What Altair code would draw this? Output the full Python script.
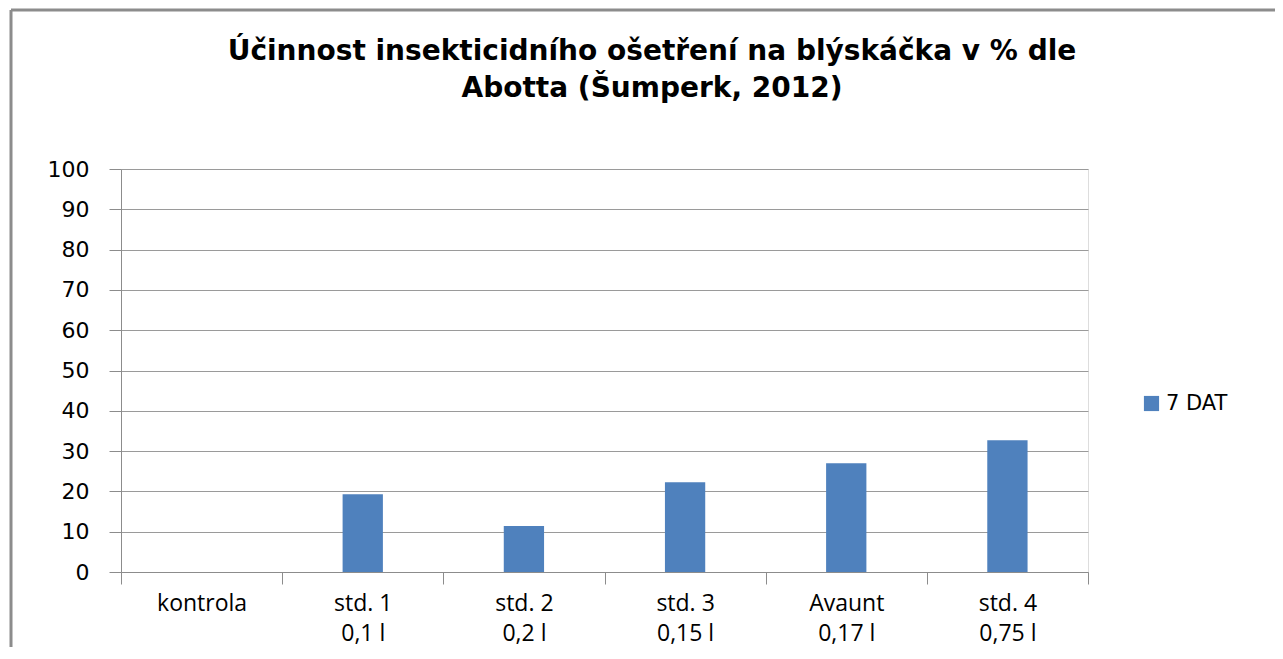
import altair as alt
import pandas as pd

categories = ["kontrola", "std. 1\n0,1 l", "std. 2\n0,2 l", "std. 3\n0,15 l", "Avaunt\n0,17 l", "std. 4\n0,75 l"]
values = [0, 19.3, 11.4, 22.3, 27.0, 32.7]
series_name = "7 DAT"
title_lines = ["Účinnost insekticidního ošetření na blýskáčka v % dle", "Abotta (Šumperk, 2012)"]
y_ticks = [0, 10, 20, 30, 40, 50, 60, 70, 80, 90, 100]

df = pd.DataFrame({"cat": categories, "val": values, "series": [series_name] * len(categories)})

W, H = 967, 403

bars = alt.Chart(df).mark_bar(width=alt.RelativeBandSize(0.25), color="#4F81BD").encode(
    x=alt.X("cat:N", sort=categories, title=None,
            scale=alt.Scale(paddingInner=0, paddingOuter=0),
            axis=alt.Axis(labelExpr="split(datum.label, '\\n')", labelAngle=0,
                          tickBand="extent", tickSize=12, tickColor="#8c8c8c",
                          domainColor="#8c8c8c", labelFont="Open Sans", labelFontSize=23,
                          labelColor="#000000", labelLineHeight=30, labelPadding=8,
                          labelBaseline="top", labelAlign="center")),
    y=alt.Y("val:Q", title=None,
            scale=alt.Scale(domain=[0, 100], nice=False),
            axis=alt.Axis(values=y_ticks, tickSize=12, tickColor="#8c8c8c",
                          domainColor="#8c8c8c", gridColor="#9a9a9a", gridWidth=1,
                          labelFont="DejaVu Sans", labelFontSize=22, labelColor="#000000",
                          labelPadding=20)),
    fill=alt.Fill("series:N", scale=alt.Scale(range=["#4F81BD"]),
                  legend=alt.Legend(title=None, orient="none", legendX=1020, legendY=224,
                                    symbolType="square", symbolSize=230,
                                    labelFont="DejaVu Sans", labelFontSize=21,
                                    labelColor="#000000", symbolStrokeWidth=0)),
)

one_row = alt.Data(values=[{}])
left_border = alt.Chart(one_row).mark_rule(color="#8c8c8c", strokeWidth=3).encode(
    x=alt.value(-110), y=alt.value(-159), y2=alt.value(600))
top_border = alt.Chart(one_row).mark_rule(color="#8c8c8c", strokeWidth=3).encode(
    x=alt.value(-110), x2=alt.value(1300), y=alt.value(-159))
title = alt.Chart(one_row).mark_text(
    font="DejaVu Sans", fontSize=28, fontWeight="bold", color="#000000",
    align="center", baseline="alphabetic", lineHeight=37).encode(
    x=alt.value(531), y=alt.value(-109), text=alt.value(title_lines))

chart = alt.layer(bars, left_border, top_border, title).properties(
    width=W, height=H,
    autosize=alt.AutoSizeParams(type="none"),
    padding={"left": 113, "top": 161, "right": 187, "bottom": 75},
).configure_view(stroke=None).configure(background="white")

chart.save("out.html", embed_options={"renderer": "svg", "actions": False})
